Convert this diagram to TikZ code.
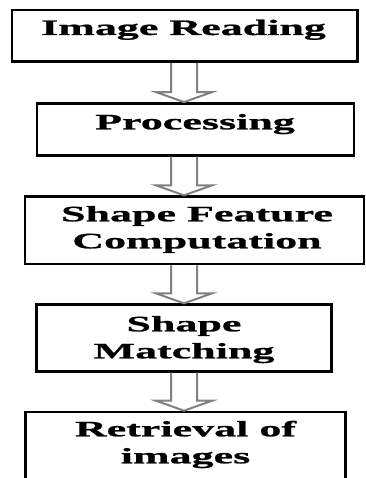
\documentclass[tikz,border=0pt]{standalone}
\usepackage{fontspec}
\usetikzlibrary{calc}
\newfontfamily\stepfont{Liberation Serif}[FakeStretch=2.0, FakeBold=1]
\newcommand{\stepArrow}[2]{%
  \draw[steparrow] let \p1=(#1.south -| spine), \p2=(#2.north -| spine) in
    (\x1-13pt,\y1) -- (\x1-13pt,\y2+10pt) -- (\x1-28pt,\y2+10pt) -- (\x2,\y2)
    -- (\x1+28pt,\y2+10pt) -- (\x1+13pt,\y2+10pt) -- (\x1+13pt,\y1);}

\begin{document}
\begin{tikzpicture}[x=1pt, y=-1pt]
  \tikzset{stepbox/.style 2 args={draw=black, line width=2.6pt, inner sep=0pt,
      minimum width=#1, minimum height=#2},
    steptext/.style={font=\stepfont\bfseries\fontsize{22}{27}\selectfont,
      align=center, anchor=base, text=black},
    steparrow/.style={draw={rgb,255:red,128;green,128;blue,128}, line width=2pt, line join=miter}}
  \useasboundingbox (0,0) rectangle (365,478);
  \clip (0,0) rectangle (365,478);
  \coordinate (spine) at (184,0);

  \node[stepbox={345.5pt}{51.7pt}] (read) at (184.75,35.85) {};
  \node[steptext] (readtext) at (183.5,35) {Image Reading};
  \node[stepbox={317pt}{52pt}] (proc) at (195.5,129.4) {};
  \node[steptext] (proctext) at (195,129.3) {Processing};
  \node[stepbox={339pt}{67.3pt}] (feat) at (194.5,230.3) {};
  \node[steptext] (feattext) at (197,248.3) {Shape Feature\\Computation};
  \node[stepbox={295pt}{66.7pt}] (match) at (184.2,338) {};
  \node[steptext] (matchtext) at (184,358.3) {Shape\\Matching};
  \node[stepbox={319.6pt}{68pt}] (retr) at (185.5,446) {};
  \node[steptext] (retrtext) at (185.5,463.3) {Retrieval of\\images};

  \stepArrow{read}{proc}
  \stepArrow{proc}{feat}
  \stepArrow{feat}{match}
  \stepArrow{match}{retr}
\end{tikzpicture}
\end{document}
